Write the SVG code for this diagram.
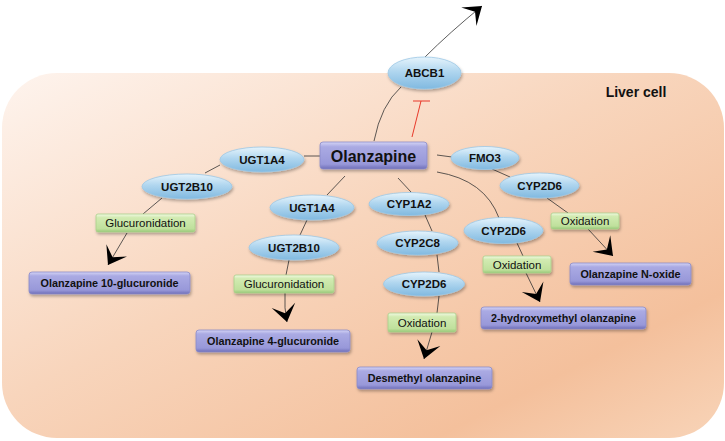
<svg xmlns="http://www.w3.org/2000/svg" width="725" height="441" viewBox="0 0 725 441">
<defs>
<linearGradient id="bg" x1="0" y1="0" x2="1" y2="1">
<stop offset="0" stop-color="#fef4ee"/>
<stop offset="0.45" stop-color="#f8d5bc"/>
<stop offset="0.8" stop-color="#f4c09c"/>
<stop offset="1" stop-color="#f8d4b8"/>
</linearGradient>
<linearGradient id="ell" x1="0" y1="0" x2="0" y2="1">
<stop offset="0" stop-color="#e6f4fc"/>
<stop offset="0.45" stop-color="#b0d6ef"/>
<stop offset="1" stop-color="#80b9e0"/>
</linearGradient>
<linearGradient id="prod" x1="0" y1="0" x2="0" y2="1">
<stop offset="0" stop-color="#d4d4f5"/>
<stop offset="0.18" stop-color="#aaaae3"/>
<stop offset="0.82" stop-color="#9898d9"/>
<stop offset="1" stop-color="#6e6eb8"/>
</linearGradient>
<linearGradient id="proc" x1="0" y1="0" x2="0" y2="1">
<stop offset="0" stop-color="#f1f9e2"/>
<stop offset="0.2" stop-color="#d2ebb2"/>
<stop offset="0.82" stop-color="#bfe09c"/>
<stop offset="1" stop-color="#98c878"/>
</linearGradient>
<filter id="sh" x="-20%" y="-30%" width="140%" height="170%">
<feDropShadow dx="1" dy="2" stdDeviation="1.5" flood-color="#000" flood-opacity="0.3"/>
</filter>
<marker id="chev" markerUnits="userSpaceOnUse" viewBox="-19 -13 20 26" markerWidth="20" markerHeight="26" refX="0" refY="0" orient="auto">
<path d="M0,0 L-17,-12 L-9,0 L-17,12 Z" fill="#000"/>
</marker>
</defs>
<style>
.e{fill:url(#ell);stroke:#9cc8e6;stroke-width:0.8;filter:url(#sh)}
.p{fill:url(#prod);stroke:#8a8ac8;stroke-width:0.8;filter:url(#sh)}
.g{fill:url(#proc);stroke:#a9d08a;stroke-width:0.8;filter:url(#sh)}
.et{font-family:"Liberation Sans",Arial,sans-serif;font-weight:bold;font-size:11.5px;fill:#111;text-anchor:middle}
.pt{font-family:"Liberation Sans",Arial,sans-serif;font-weight:bold;font-size:10.8px;fill:#111;text-anchor:middle}
.gt{font-family:"Liberation Sans",Arial,sans-serif;font-size:11.5px;fill:#111;text-anchor:middle}
.c{fill:none;stroke:#333;stroke-width:0.8}
.a{marker-end:url(#chev)}
</style>
<rect x="2" y="73" width="722" height="365" rx="55" ry="55" fill="url(#bg)"/>
<text x="636" y="97" font-family="'Liberation Sans',Arial,sans-serif" font-weight="bold" font-size="14" fill="#111" text-anchor="middle">Liver cell</text>

<g id="connectors">
<path class="c" d="M374,141 Q381,105 401,87"/>
<path class="c a" d="M425,57 Q449,33 482,6"/>
<path d="M412,137 L421,101 M413,101 L430,101" fill="none" stroke="#e8392a" stroke-width="1"/>
<path class="c" d="M304,156 L320,156"/>
<path class="c" d="M220,165 L205,173"/>
<path class="c" d="M162,198 L143,214"/>
<path class="c a" d="M127,233 L108,265"/>
<path class="c" d="M345,176 L327,195"/>
<path class="c" d="M307,220 L300,235"/>
<path class="c" d="M289,260 L286,275"/>
<path class="c a" d="M285,293 Q284,308 287,322"/>
<path class="c" d="M398,178 L411,192"/>
<path class="c" d="M425,215 L432,231"/>
<path class="c" d="M437,255 L439,272"/>
<path class="c" d="M439,296 L437,313"/>
<path class="c a" d="M432,332 L424,359"/>
<path class="c" d="M437,172 Q485,180 499,218"/>
<path class="c" d="M517,243 L523,256"/>
<path class="c a" d="M526,273 L540,302"/>
<path class="c" d="M437,155 L452,157"/>
<path class="c" d="M492,169 L510,177"/>
<path class="c" d="M547,198 L568,213"/>
<path class="c a" d="M588,229 L613,256"/>
</g>

<g id="abcb1"><ellipse class="e" cx="424.5" cy="73" rx="36.5" ry="16"/><text class="et" x="424.5" y="77">ABCB1</text></g>
<g id="olanzapine"><rect class="p" x="320" y="142" width="107" height="27" rx="3"/><text x="373.5" y="161.5" font-family="'Liberation Sans',Arial,sans-serif" font-weight="bold" font-size="16" fill="#111" text-anchor="middle">Olanzapine</text></g>

<g id="ugt1a4-a"><ellipse class="e" cx="262" cy="159.5" rx="42" ry="12.5"/><text class="et" x="262" y="163.5">UGT1A4</text></g>
<g id="ugt2b10-a"><ellipse class="e" cx="187" cy="186.5" rx="45" ry="12.5"/><text class="et" x="187" y="190.5">UGT2B10</text></g>
<g id="gluc-a"><rect class="g" x="96" y="214" width="99" height="18" rx="2"/><text class="gt" x="145.5" y="227">Glucuronidation</text></g>
<g id="prod-10gluc"><rect class="p" x="29" y="272" width="161" height="22" rx="3"/><text class="pt" x="109.5" y="287">Olanzapine 10-glucuronide</text></g>

<g id="ugt1a4-b"><ellipse class="e" cx="312" cy="207.5" rx="42" ry="12.5"/><text class="et" x="312" y="211.5">UGT1A4</text></g>
<g id="ugt2b10-b"><ellipse class="e" cx="294" cy="247.5" rx="45" ry="12.5"/><text class="et" x="294" y="251.5">UGT2B10</text></g>
<g id="gluc-b"><rect class="g" x="234" y="275" width="100" height="18" rx="2"/><text class="gt" x="284" y="288">Glucuronidation</text></g>
<g id="prod-4gluc"><rect class="p" x="196" y="330" width="154" height="22" rx="3"/><text class="pt" x="273" y="345">Olanzapine 4-glucuronide</text></g>

<g id="cyp1a2"><ellipse class="e" cx="409" cy="204" rx="40" ry="11.5"/><text class="et" x="409" y="208">CYP1A2</text></g>
<g id="cyp2c8"><ellipse class="e" cx="417.5" cy="243" rx="40.5" ry="12"/><text class="et" x="417.5" y="247">CYP2C8</text></g>
<g id="cyp2d6-c"><ellipse class="e" cx="424" cy="284" rx="40.5" ry="12"/><text class="et" x="424" y="288">CYP2D6</text></g>
<g id="ox-c"><rect class="g" x="388" y="313" width="68" height="19" rx="2"/><text class="gt" x="422" y="326.5">Oxidation</text></g>
<g id="prod-desmethyl"><rect class="p" x="357" y="367" width="135" height="22" rx="3"/><text class="pt" x="424.5" y="382">Desmethyl olanzapine</text></g>

<g id="cyp2d6-b"><ellipse class="e" cx="503.5" cy="230.5" rx="39.5" ry="13"/><text class="et" x="503.5" y="234.5">CYP2D6</text></g>
<g id="ox-b"><rect class="g" x="483" y="256" width="68" height="17" rx="2"/><text class="gt" x="517" y="268.5">Oxidation</text></g>
<g id="prod-2hm"><rect class="p" x="481" y="307" width="165" height="22" rx="3"/><text class="pt" x="563.5" y="322">2-hydroxymethyl olanzapine</text></g>

<g id="fmo3"><ellipse class="e" cx="485" cy="158" rx="34" ry="11.5"/><text class="et" x="485" y="162">FMO3</text></g>
<g id="cyp2d6-a"><ellipse class="e" cx="539.5" cy="185.5" rx="39.5" ry="12.5"/><text class="et" x="539.5" y="189.5">CYP2D6</text></g>
<g id="ox-a"><rect class="g" x="551" y="213" width="68" height="16" rx="2"/><text class="gt" x="585" y="225">Oxidation</text></g>
<g id="prod-noxide"><rect class="p" x="570" y="263" width="121" height="22" rx="3"/><text class="pt" x="630.5" y="278">Olanzapine N-oxide</text></g>
</svg>
